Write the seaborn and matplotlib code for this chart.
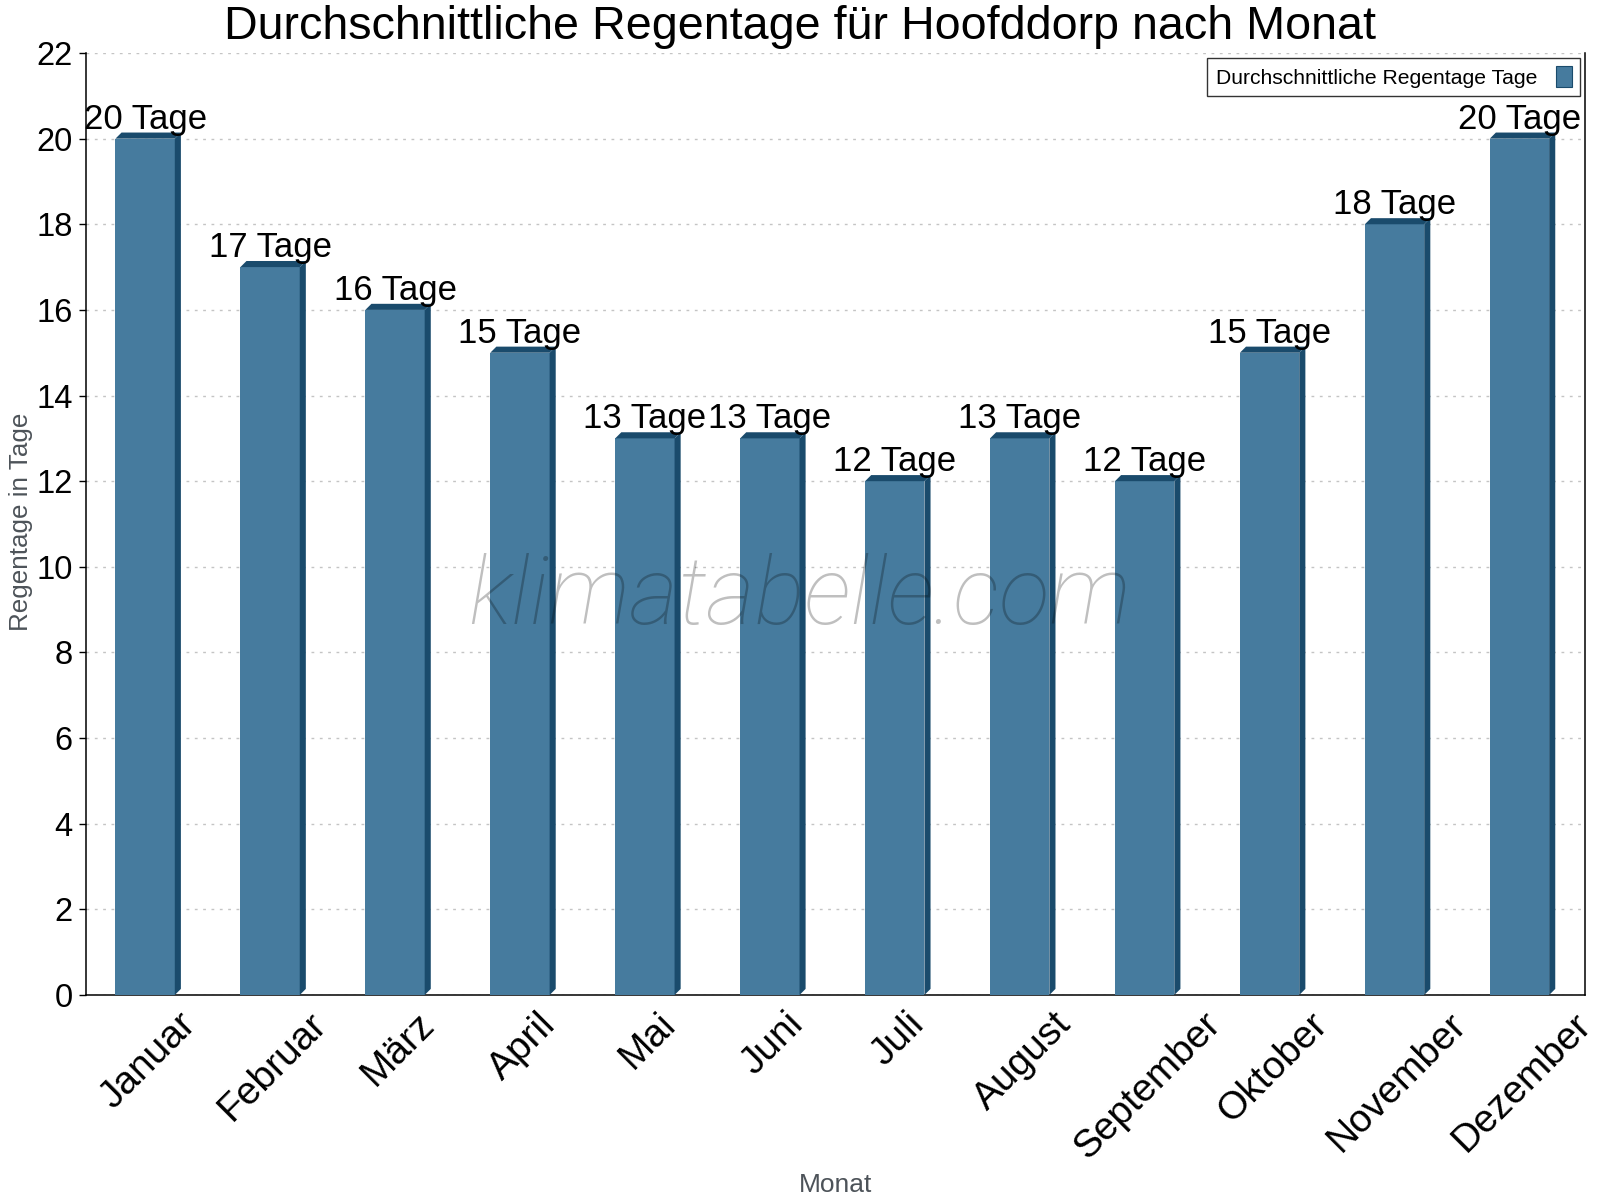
import matplotlib
matplotlib.use("Agg")
import matplotlib.pyplot as plt
from matplotlib.patches import Polygon, Patch
import seaborn as sns
import pandas as pd

months = ["Januar", "Februar", "März", "April", "Mai", "Juni", "Juli",
          "August", "September", "Oktober", "November", "Dezember"]
rain_days = [20, 17, 16, 15, 13, 13, 12, 13, 12, 15, 18, 20]
bar_labels = [f"{v} Tage" for v in rain_days]
title = "Durchschnittliche Regentage für Hoofddorp nach Monat"
series_name = "Durchschnittliche Regentage Tage"
y_label = "Regentage in Tage"
x_label = "Monat"
y_ticks = list(range(0, 23, 2))

FRONT = "#467b9e"
DARK = "#1a4b6c"
GRAY = "#4d5359"

sns.set_style("white")
plt.rcParams["font.family"] = ["Liberation Sans", "DejaVu Sans"]
plt.rcParams["text.color"] = "black"
plt.rcParams["xtick.color"] = "black"
plt.rcParams["ytick.color"] = "black"
plt.rcParams["xtick.labelcolor"] = "black"
plt.rcParams["ytick.labelcolor"] = "black"

fig = plt.figure(figsize=(16, 12), dpi=100)
L, R, T, B = 85.7 / 1600, 1585 / 1600, 1 - 53 / 1200, 1 - 995 / 1200
ax = fig.add_axes([L, B, R - L, T - B])

df = pd.DataFrame({"Monat": months, "Tage": rain_days})
sns.barplot(data=df, x="Monat", y="Tage", order=months, color=FRONT,
            saturation=1, width=0.475, ax=ax, edgecolor="none", zorder=3)

ax.set_xlim(-0.5, len(months) - 0.5)
ax.set_ylim(0, 22)

# 3D depth in data units (fixed figure geometry)
d_px = 6.1
ax_w_px = (R - L) * 1600
ax_h_px = (T - B) * 1200
dx = d_px / ax_w_px * (len(months))
dy = d_px / ax_h_px * 22

for p, lab in zip(ax.patches, bar_labels):
    p.set_x(p.get_x() - dx / 2)
    x0 = p.get_x()
    x1 = x0 + p.get_width()
    h = p.get_height()
    side = Polygon([(x1, 0), (x1 + dx, dy), (x1 + dx, h + dy), (x1, h)],
                   closed=True, facecolor=DARK, edgecolor="none", zorder=3)
    top = Polygon([(x0, h), (x0 + dx, h + dy), (x1 + dx, h + dy), (x1, h)],
                  closed=True, facecolor=DARK, edgecolor="none", zorder=3)
    ax.add_patch(side)
    ax.add_patch(top)
    ax.annotate(lab, (x0 + p.get_width() / 2, h), xytext=(0, 7.2),
                textcoords="offset points", ha="center", va="baseline",
                fontsize=25, color="black", zorder=5)

# grid
ax.set_yticks(y_ticks)
ax.yaxis.grid(True, linestyle=(0, (2, 4)), color="#c4c4c4", linewidth=1.0, zorder=0)
ax.xaxis.grid(False)
ax.set_axisbelow(True)

# x ticks: boundaries major, labels at minor
ax.set_xticks([i - 0.5 for i in range(len(months) + 1)])
ax.set_xticklabels([])
ax.set_xticks(range(len(months)), minor=True)
ax.set_xticklabels(months, minor=True, rotation=45, ha="center", fontsize=28, color="black")
ax.tick_params(axis="x", which="major", direction="inout", length=6.5, width=1.0, color="black")
ax.tick_params(axis="x", which="minor", length=0, pad=8, labelcolor="black")
ax.tick_params(axis="y", direction="out", length=5, width=1.0, pad=4.3,
               labelsize=23.5, color="black", labelcolor="black", left=True)
ax.set_yticklabels([str(t) for t in y_ticks], color="black")

for s in ["left", "right", "bottom"]:
    ax.spines[s].set_visible(True)
    ax.spines[s].set_color("black")
    ax.spines[s].set_linewidth(1.1)
ax.spines["top"].set_visible(False)

ax.set_xlabel("")
ax.set_ylabel("")
fig.text(21 / 1600, 1 - 522 / 1200, y_label, rotation=90, ha="center", va="center",
         fontsize=18.7, color=GRAY)
fig.text((L + R) / 2, 1 - 1192 / 1200, x_label, ha="center", va="baseline",
         fontsize=19, color=GRAY)
fig.text(0.5, 1 - 39 / 1200, title, ha="center", va="baseline", fontsize=33.6, color="black")

# watermark
fig.text(800 / 1600, 1 - 624 / 1200, "klimatabelle.com", ha="center", va="baseline",
         fontsize=67.5, family="Roboto", fontweight="light", style="italic",
         color="black", alpha=0.25, zorder=10)

handle = Patch(facecolor=FRONT, edgecolor=DARK, linewidth=0.8)
leg = ax.legend([handle], [series_name], loc="upper right",
                bbox_to_anchor=(0.9969, 0.9947), borderaxespad=0,
                markerfirst=False, fontsize=15.2, frameon=True, fancybox=False,
                handlelength=0.75, handleheight=1.1, handletextpad=0.9,
                borderpad=0.4)
for t in leg.get_texts():
    t.set_color("black")
leg.get_frame().set_edgecolor("black")
leg.get_frame().set_linewidth(1.0)
leg.set_zorder(6)

fig.savefig("out.png", dpi=100)
